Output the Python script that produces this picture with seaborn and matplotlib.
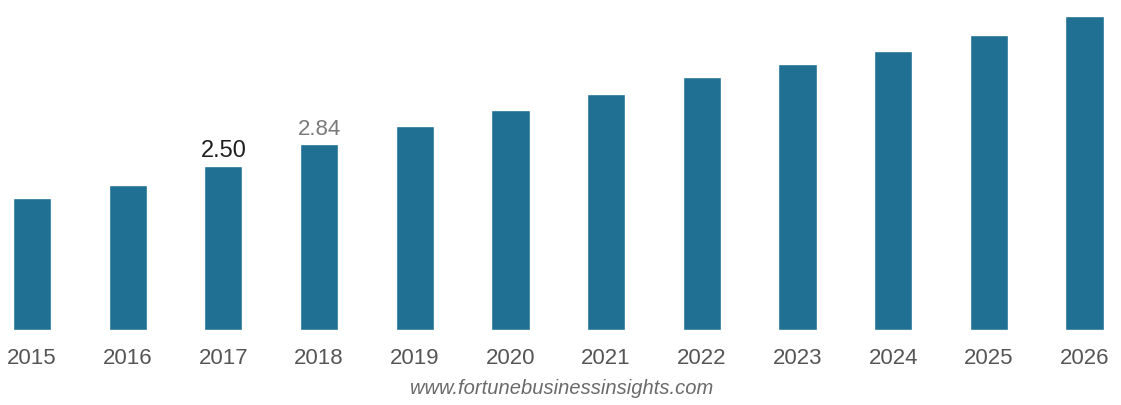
import matplotlib
matplotlib.use("Agg")
import matplotlib.pyplot as plt
import seaborn as sns
import pandas as pd

years = ["2015", "2016", "2017", "2018", "2019", "2020",
         "2021", "2022", "2023", "2024", "2025", "2026"]
market_size = [2.01, 2.21, 2.50, 2.84, 3.11, 3.35,
               3.60, 3.86, 4.05, 4.25, 4.50, 4.79]
labelled_years = ["2017", "2018"]
source_text = "www.fortunebusinessinsights.com"

df = pd.DataFrame({"year": years, "value": market_size})

sns.set_theme(style="white")
plt.rcParams["font.family"] = ["Liberation Sans", "DejaVu Sans"]

W, H = 1121, 405
fig = plt.figure(figsize=(W / 100, H / 100), dpi=100)
ax = fig.add_axes([0, 75 / H, 1, 1 - 75 / H])

bar_color = "#1f7093"
sns.barplot(data=df, x="year", y="value", color=bar_color, width=0.4,
            saturation=1, ax=ax)

ax.set_xlim(-0.334, 11.38)
ax.set_ylim(0, 5.03)
ax.set_xlabel("")
ax.set_ylabel("")
ax.set_yticks([])
for s in ax.spines.values():
    s.set_visible(False)
ax.tick_params(axis="x", length=0, pad=13, labelsize=16, labelcolor="#555555")

label_styles = {"2017": dict(color="#1e1e1e", fontsize=17),
                "2018": dict(color="#7a7a7a", fontsize=16)}
for i, (yr, v) in enumerate(zip(years, market_size)):
    if yr in labelled_years:
        ax.text(i, v + 0.06, f"{v:.2f}", ha="center", va="bottom",
                **label_styles[yr])

fig.text(562 / W, 1 - 388 / H, source_text, ha="center", va="center",
         fontsize=14.5, style="italic", color="#6a6a6a")

fig.savefig("out.png", dpi=100, facecolor="white")
